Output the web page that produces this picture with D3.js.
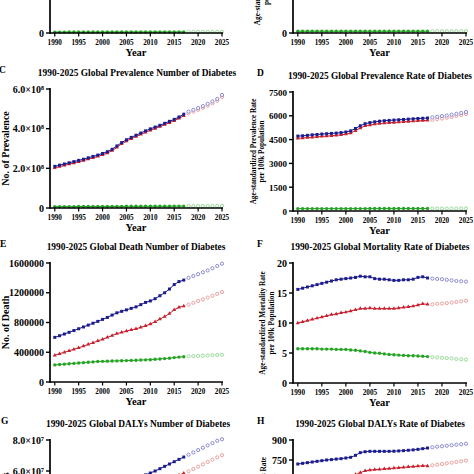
<!DOCTYPE html>
<html><head><meta charset="utf-8">
<script src="https://cdn.jsdelivr.net/npm/d3@7"></script>
<style>
html,body{margin:0;padding:0;background:#fff;}
svg{display:block;}
text{font-family:"Liberation Serif","Times New Roman",serif;font-weight:bold;fill:#000;}
</style></head>
<body><svg id="chart" width="474" height="474"></svg>
<script>
// ---------- DATA ----------
const years = [1990,1991,1992,1993,1994,1995,1996,1997,1998,1999,2000,2001,2002,2003,2004,2005,2006,2007,2008,2009,2010,2011,2012,2013,2014,2015,2016,2017,2018,2019,2020,2021,2022,2023,2024,2025];
const lastObservedYear = 2017;
const xTicks = [1990,1995,2000,2005,2010,2015,2020,2025];

// A: incidence number (only the near-zero series is visible)
const incNumGreen = [230000,232000,234000,236000,238000,240000,242000,244000,246000,248000,250000,252000,254000,256000,258000,260000,262000,264000,266000,268000,270000,272000,274000,276000,278000,280000,282000,284000,286000,288000,290000,292000,294000,296000,298000,300000];
// B: incidence rate (only the near-zero series is visible)
const incRateGreen = [4.6,4.6,4.6,4.6,4.6,4.6,4.6,4.6,4.6,4.6,4.6,4.6,4.6,4.6,4.6,4.6,4.6,4.6,4.6,4.6,4.6,4.6,4.6,4.6,4.6,4.6,4.6,4.6,4.6,4.6,4.6,4.6,4.6,4.6,4.6,4.6];

// C: prevalence number
const prevNumBlue = [2.10e8,2.16e8,2.22e8,2.28e8,2.34e8,2.40e8,2.46e8,2.53e8,2.60e8,2.67e8,2.75e8,2.84e8,2.96e8,3.13e8,3.30e8,3.44e8,3.56e8,3.67e8,3.78e8,3.89e8,3.99e8,4.08e8,4.17e8,4.27e8,4.37e8,4.47e8,4.59e8,4.73e8,4.86e8,4.95e8,5.04e8,5.14e8,5.25e8,5.37e8,5.50e8,5.70e8];
const prevNumRed  = [2.03e8,2.09e8,2.15e8,2.21e8,2.27e8,2.33e8,2.39e8,2.46e8,2.53e8,2.60e8,2.68e8,2.77e8,2.89e8,3.06e8,3.23e8,3.37e8,3.49e8,3.60e8,3.71e8,3.82e8,3.92e8,4.01e8,4.10e8,4.20e8,4.30e8,4.40e8,4.52e8,4.65e8,4.77e8,4.86e8,4.95e8,5.05e8,5.16e8,5.28e8,5.41e8,5.60e8];
const prevNumGreen= [0.07e8,0.07e8,0.07e8,0.07e8,0.07e8,0.075e8,0.075e8,0.075e8,0.075e8,0.075e8,0.08e8,0.08e8,0.08e8,0.08e8,0.08e8,0.085e8,0.085e8,0.085e8,0.085e8,0.085e8,0.09e8,0.09e8,0.09e8,0.09e8,0.09e8,0.095e8,0.095e8,0.095e8,0.10e8,0.10e8,0.10e8,0.10e8,0.10e8,0.105e8,0.105e8,0.105e8];

// D: prevalence rate
const prevRateBlue = [4720,4740,4770,4800,4820,4850,4870,4890,4910,4940,4980,5050,5200,5370,5500,5570,5620,5660,5690,5710,5730,5750,5770,5790,5810,5830,5845,5860,5900,5940,5980,6020,6070,6120,6180,6240];
const prevRateRed  = [4580,4600,4630,4650,4670,4700,4720,4740,4770,4800,4840,4910,5060,5230,5360,5420,5470,5510,5540,5560,5580,5600,5620,5640,5660,5680,5700,5710,5750,5790,5830,5880,5930,5990,6050,6110];
const prevRateGreen= [150,150,150,150,150,150,150,150,150,150,152,152,152,152,152,154,154,154,154,154,155,155,155,155,155,156,156,156,157,157,157,158,158,158,159,159];

// E: death number
const deathBlue = [600000,622000,645000,668000,692000,716000,740000,765000,790000,815000,842000,868000,900000,930000,950000,970000,990000,1010000,1040000,1070000,1090000,1120000,1160000,1200000,1250000,1310000,1350000,1370000,1400000,1425000,1450000,1475000,1500000,1530000,1560000,1590000];
const deathRed  = [360000,380000,400000,420000,440000,460000,482000,505000,528000,552000,575000,600000,625000,650000,668000,685000,700000,715000,735000,755000,780000,810000,845000,880000,920000,970000,1005000,1020000,1040000,1065000,1090000,1110000,1135000,1160000,1185000,1210000];
const deathGreen= [230000,235000,240000,245000,250000,255000,260000,265000,270000,275000,278000,280000,282000,284000,286000,288000,290000,292000,295000,298000,300000,305000,310000,315000,320000,328000,335000,340000,345000,348000,351000,354000,357000,360000,363000,366000];

// F: mortality rate
const mortBlue = [15.6,15.8,16.0,16.2,16.4,16.6,16.8,17.0,17.2,17.3,17.4,17.5,17.6,17.8,17.7,17.7,17.4,17.3,17.3,17.2,17.1,17.1,17.2,17.2,17.3,17.6,17.7,17.5,17.4,17.35,17.3,17.2,17.1,17.0,16.95,16.9];
const mortRed  = [10.0,10.2,10.4,10.6,10.8,11.0,11.2,11.4,11.5,11.7,11.8,12.0,12.2,12.4,12.4,12.5,12.4,12.4,12.4,12.4,12.4,12.5,12.6,12.7,12.8,13.0,13.2,13.1,13.1,13.2,13.25,13.3,13.4,13.5,13.6,13.7];
const mortGreen= [5.7,5.7,5.7,5.7,5.7,5.65,5.65,5.65,5.6,5.6,5.6,5.5,5.45,5.35,5.25,5.1,5.0,4.95,4.85,4.75,4.7,4.65,4.6,4.55,4.55,4.5,4.45,4.4,4.3,4.25,4.2,4.15,4.1,4.0,3.95,3.9];

// G: DALYs number
const dalyNumBlue = [3.6e7,3.7e7,3.8e7,3.9e7,4.0e7,4.1e7,4.2e7,4.3e7,4.45e7,4.6e7,4.75e7,4.9e7,5.05e7,5.2e7,5.3e7,5.4e7,5.5e7,5.58e7,5.66e7,5.75e7,5.87e7,6.0e7,6.15e7,6.3e7,6.45e7,6.6e7,6.75e7,6.9e7,7.05e7,7.2e7,7.35e7,7.5e7,7.65e7,7.8e7,7.95e7,8.05e7];
const dalyNumRed  = [2.9e7,3.0e7,3.1e7,3.2e7,3.3e7,3.4e7,3.5e7,3.6e7,3.7e7,3.8e7,3.9e7,4.0e7,4.12e7,4.25e7,4.38e7,4.5e7,4.6e7,4.7e7,4.8e7,4.9e7,5.0e7,5.1e7,5.22e7,5.34e7,5.46e7,5.6e7,5.74e7,5.85e7,5.98e7,6.13e7,6.28e7,6.43e7,6.58e7,6.73e7,6.88e7,7.02e7];

// H: DALYs rate
const dalyRateBlue = [720,725,730,735,740,745,750,753,757,760,765,770,785,805,812,815,815,815,815,815,816,818,820,823,826,830,835,840,845,850,853,857,861,865,868,872];
const dalyRateRed  = [540,548,556,564,572,580,588,596,604,612,620,628,640,655,668,675,678,680,683,686,689,692,695,698,701,704,707,705,710,715,720,725,730,735,740,745];

const colors = {
  blue:  {obs:"#1c1c8e", pred:"#7f7fcc"},
  red:   {obs:"#c8202e", pred:"#e99797"},
  green: {obs:"#23a523", pred:"#92d692"}
};

// ---------- DRAW ----------
const W = 474, H = 474;
const svg = d3.select("#chart");
const sup = {"0":"\u2070","1":"\u00b9","2":"\u00b2","3":"\u00b3","4":"\u2074","5":"\u2075","6":"\u2076","7":"\u2077","8":"\u2078","9":"\u2079"};
const visibleY = v => v > -4 && v < H + 6;

function sciFmt(v){
  if (v===0) return "0";
  const e = Math.floor(Math.log10(v));
  return (v/Math.pow(10,e)).toFixed(1) + "\u00d710" + String(e).split("").map(c=>sup[c]).join("");
}

function panel(cfg){
  const g = svg.append("g");
  const x = d3.scaleLinear().domain([1989,2025]).range(cfg.xr);
  const y = d3.scaleLinear().domain(cfg.yDomain).range(cfg.yr);
  const y0 = y(0), yTop = cfg.yr[1];
  const ax = cfg.xr[0];

  // series
  cfg.series.forEach(s=>{
    const c = colors[s.color];
    const pts = years.map((yr,i)=>({yr, v:s.values[i]}));
    const obs = pts.filter(p=>p.yr<=lastObservedYear);
    const pred = pts.filter(p=>p.yr>lastObservedYear);
    g.append("path").datum(obs)
      .attr("fill","none").attr("stroke",c.obs).attr("stroke-width",1)
      .attr("d", d3.line().x(p=>x(p.yr)).y(p=>y(p.v)));
    const sym = s.color==="red" ? d3.symbolTriangle : (s.color==="blue" ? d3.symbolSquare : d3.symbolCircle);
    const size = s.color==="red" ? 7 : 9;
    g.selectAll(null).data(obs).enter().append("path")
      .attr("d", d3.symbol().type(sym).size(size))
      .attr("transform", p=>`translate(${x(p.yr)},${y(p.v)})`)
      .attr("fill", c.obs);
    g.selectAll(null).data(pred).enter().append("circle")
      .attr("cx", p=>x(p.yr)).attr("cy", p=>y(p.v)).attr("r",1.6)
      .attr("fill","#fff").attr("stroke",c.pred).attr("stroke-width",0.9);
  });

  // axes
  g.append("line").attr("x1",ax).attr("x2",ax).attr("y1",y0+0.8).attr("y2",yTop-1)
    .attr("stroke","#000").attr("stroke-width",1.7);
  g.append("line").attr("x1",ax).attr("x2",cfg.xr[1]+1).attr("y1",y0).attr("y2",y0)
    .attr("stroke","#000").attr("stroke-width",1.7);
  cfg.yTicks.forEach(t=>{
    g.append("line").attr("x1",ax-4).attr("x2",ax).attr("y1",y(t)).attr("y2",y(t))
      .attr("stroke","#000").attr("stroke-width",1.4);
    if (visibleY(y(t)))
      g.append("text").attr("x",ax-6).attr("y",y(t)+3.5).attr("text-anchor","end")
        .attr("font-size", cfg.yTickSize||10).text(cfg.yFmt ? cfg.yFmt(t) : d3.format("d")(t));
  });
  xTicks.forEach(t=>{
    g.append("line").attr("x1",x(t)).attr("x2",x(t)).attr("y1",y0).attr("y2",y0+3.5)
      .attr("stroke","#000").attr("stroke-width",1.2);
    if (visibleY(y0+11.5))
      g.append("text").attr("x",x(t)).attr("y",y0+11.5).attr("text-anchor","middle")
        .attr("font-size",7.2).text(t);
  });
  const mid = (cfg.xr[0]+cfg.xr[1])/2;
  if (visibleY(y0+23))
    g.append("text").attr("x",mid).attr("y",y0+23).attr("text-anchor","middle")
      .attr("font-size",10.5).text("Year");
  // title & letter
  if (cfg.title){
    g.append("text").attr("x",cfg.titleX).attr("y",yTop-13).attr("text-anchor","middle")
      .attr("font-size",9.4).text(cfg.title);
  }
  if (cfg.letter){
    g.append("text").attr("x",cfg.letterX).attr("y",yTop-16).attr("font-size",9.5).text(cfg.letter);
  }
  // y labels
  const ly = cfg.yLabelCenter !== undefined ? cfg.yLabelCenter : (y0+yTop)/2;
  cfg.yLabel.forEach((lab,i)=>{
    g.append("text").attr("transform",`translate(${cfg.yLabelX[i]},${ly}) rotate(-90)`)
      .attr("text-anchor","middle").attr("font-size",cfg.yLabelSize).text(lab);
  });
}

const L = [50,222], R = [293,466];

panel({xr:L, yr:[33,-86], yDomain:[0,3e7], yTicks:[0,1e7,2e7,3e7], yFmt:sciFmt,
  series:[{color:"green",values:incNumGreen}],
  yLabel:[], yLabelX:[], yLabelSize:10});
panel({xr:R, yr:[33,-86], yDomain:[0,300], yTicks:[0,100,200,300],
  series:[{color:"green",values:incRateGreen}],
  yLabel:["Age-standardized Incidence Rate","per 100k Population"], yLabelX:[260,269], yLabelSize:7.3});
panel({xr:L, yr:[208,89], yDomain:[0,6e8], yTicks:[0,2e8,4e8,6e8], yFmt:sciFmt,
  series:[{color:"green",values:prevNumGreen},{color:"red",values:prevNumRed},{color:"blue",values:prevNumBlue}],
  title:"1990-2025 Global Prevalence Number of Diabetes", titleX:137, letter:"C", letterX:-1,
  yLabel:["No. of Prevalence"], yLabelX:[9], yLabelSize:10});
panel({xr:R, yr:[211,92], yDomain:[0,7500], yTicks:[0,1500,3000,4500,6000,7500], yTickSize:9,
  series:[{color:"green",values:prevRateGreen},{color:"red",values:prevRateRed},{color:"blue",values:prevRateBlue}],
  title:"1990-2025 Global Prevalence Rate of Diabetes", titleX:380, letter:"D", letterX:257,
  yLabel:["Age-standardized Prevalence Rate","per 100k Population"], yLabelX:[256,264], yLabelSize:7.2});
panel({xr:L, yr:[382,263], yDomain:[0,1600000], yTicks:[0,400000,800000,1200000,1600000],
  series:[{color:"green",values:deathGreen},{color:"red",values:deathRed},{color:"blue",values:deathBlue}],
  title:"1990-2025 Global Death Number of Diabetes", titleX:136, letter:"E", letterX:0,
  yLabel:["No. of Death"], yLabelX:[9], yLabelSize:10});
panel({xr:R, yr:[383,263], yDomain:[0,20], yTicks:[0,5,10,15,20],
  series:[{color:"green",values:mortGreen},{color:"red",values:mortRed},{color:"blue",values:mortBlue}],
  title:"1990-2025 Global Mortality Rate of Diabetes", titleX:380, letter:"F", letterX:257,
  yLabel:["Age-standardized Mortality Rate","per 100k Population"], yLabelX:[265,274], yLabelSize:7.3});
panel({xr:L, yr:[564,440], yDomain:[0,8e7], yTicks:[0,2e7,4e7,6e7,8e7], yFmt:sciFmt,
  series:[{color:"red",values:dalyNumRed},{color:"blue",values:dalyNumBlue}],
  title:"1990-2025 Global DALYs Number of Diabetes", titleX:138, letter:"G", letterX:1,
  yLabel:["No. of DALYs"], yLabelX:[9], yLabelSize:10});
panel({xr:R, yr:[560,440], yDomain:[0,900], yTicks:[0,150,300,450,600,750,900],
  series:[{color:"red",values:dalyRateRed},{color:"blue",values:dalyRateBlue}],
  title:"1990-2025 Global DALYs Rate of Diabetes", titleX:380, letter:"H", letterX:257,
  yLabel:["Age-standardized DALYs Rate","per 100k Population"], yLabelX:[266,275], yLabelSize:7.3, yLabelCenter:505});
</script></body></html>
